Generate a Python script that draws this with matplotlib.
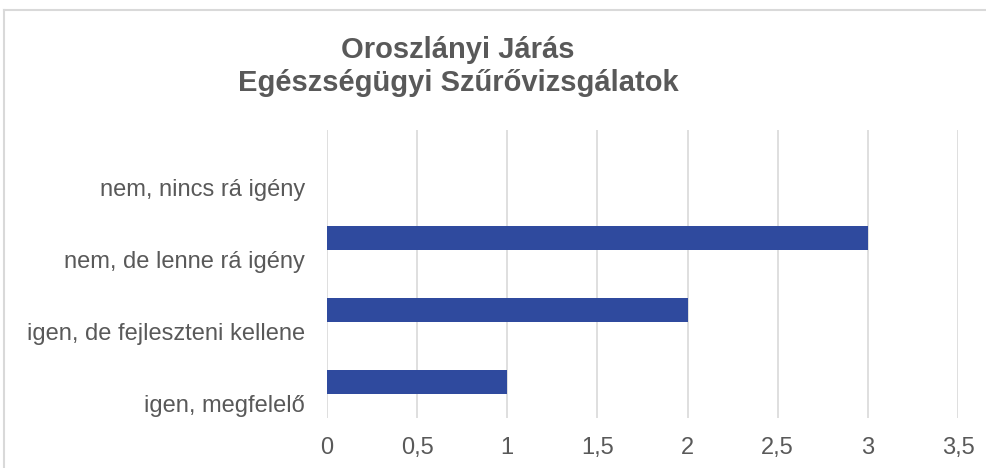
import matplotlib
matplotlib.use("Agg")
import matplotlib.pyplot as plt
from matplotlib.lines import Line2D

plt.rcParams['font.family'] = ['Liberation Sans', 'DejaVu Sans']

categories = ["igen, megfelelő", "igen, de fejleszteni kellene",
              "nem, de lenne rá igény", "nem, nincs rá igény"]
values = [1, 2, 3, 0]
xticks = [0, 0.5, 1, 1.5, 2, 2.5, 3, 3.5]
xtick_labels = ["0", "0,5", "1", "1,5", "2", "2,5", "3", "3,5"]
title = "Oroszlányi Járás\nEgészségügyi Szűrővizsgálatok"

W, H = 987, 468
fig = plt.figure(figsize=(W / 100, H / 100), dpi=100)
fig.patch.set_facecolor("white")

# chart border: only top and left edges are inside the image
bx, by = 4.5 / W, 1 - 9.5 / H
fig.add_artist(Line2D([bx, 1.0], [by, by], transform=fig.transFigure,
                      color="#D9D9D9", linewidth=1.5))
fig.add_artist(Line2D([bx, bx], [0.0, by], transform=fig.transFigure,
                      color="#D9D9D9", linewidth=1.5))

ax = fig.add_axes([327 / W, 1 - 418 / H, (958 - 327) / W, (418 - 130) / H])
pos = list(range(len(categories)))
ax.barh(pos, values, height=0.33, color="#2F4A9E", zorder=3)
ax.set_xlim(0, 3.5)
ax.set_ylim(-0.5, len(categories) - 0.5)
ax.set_xticks(xticks)
ax.set_xticklabels(xtick_labels)
ax.set_yticks([p - 0.3 for p in pos])
ax.set_yticklabels(categories)
ax.tick_params(axis="both", length=0, labelsize=17, colors="#595959")
ax.tick_params(axis="x", pad=14)
ax.tick_params(axis="y", pad=16)
ax.grid(axis="x", color="#D9D9D9", linewidth=1.2, zorder=0)
for s in ax.spines.values():
    s.set_visible(False)

fig.text(458 / W, 1 - 66.5 / H, title, ha="center", va="center",
         fontsize=21, fontweight="bold", color="#595959", linespacing=1.2)

fig.savefig("out.png", dpi=100)
